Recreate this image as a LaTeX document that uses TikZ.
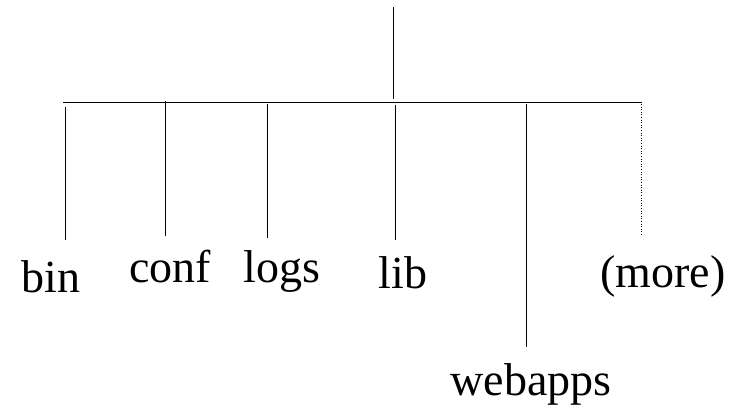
\documentclass[tikz,border=0pt]{standalone}
\usepackage{fontspec}
\setmainfont{Liberation Serif}
\usetikzlibrary{positioning}

\begin{document}
\begin{tikzpicture}[x=1pt,y=-1pt,line width=1pt,
		dir/.style={anchor=base,inner sep=0pt,font=\fontsize{46}{52}\selectfont}]
		\useasboundingbox (0,0) rectangle (744,409);
		% root and the bar
		\coordinate (root) at (393,7);
		\coordinate (rootend) at (393,99);
		\coordinate (barL) at (63,103);
		\coordinate (barR) at (642,103);
		\draw (root) -- (rootend);
		\draw (barL) -- (barR);
		% the folders: name / line x / line top / line bottom / label x / baseline
		\foreach \n/\lx/\ta/\tb/\tx/\ty in {bin/65/107/240/51/292, conf/165/101/236/170/282,
			logs/267/104/238/282/282, lib/395/105/240/403/288, webapps/526/104/347/531/395}{
			\coordinate (\n-a) at (\lx,\ta);
			\coordinate (\n-b) at (\lx,\tb);
			\node[dir] (\n) at (\tx,\ty) {\n};
			\draw (\n-a) -- (\n-b);
		}
		\coordinate (more-a) at (641,104);
		\coordinate (more-b) at (641,236);
		\node[dir] (more) at (663,287) {(more)};
		\draw [line width=0.8pt,dash pattern=on 1pt off 1.6pt] (more-a) -- (more-b);
	\end{tikzpicture}
\end{document}
